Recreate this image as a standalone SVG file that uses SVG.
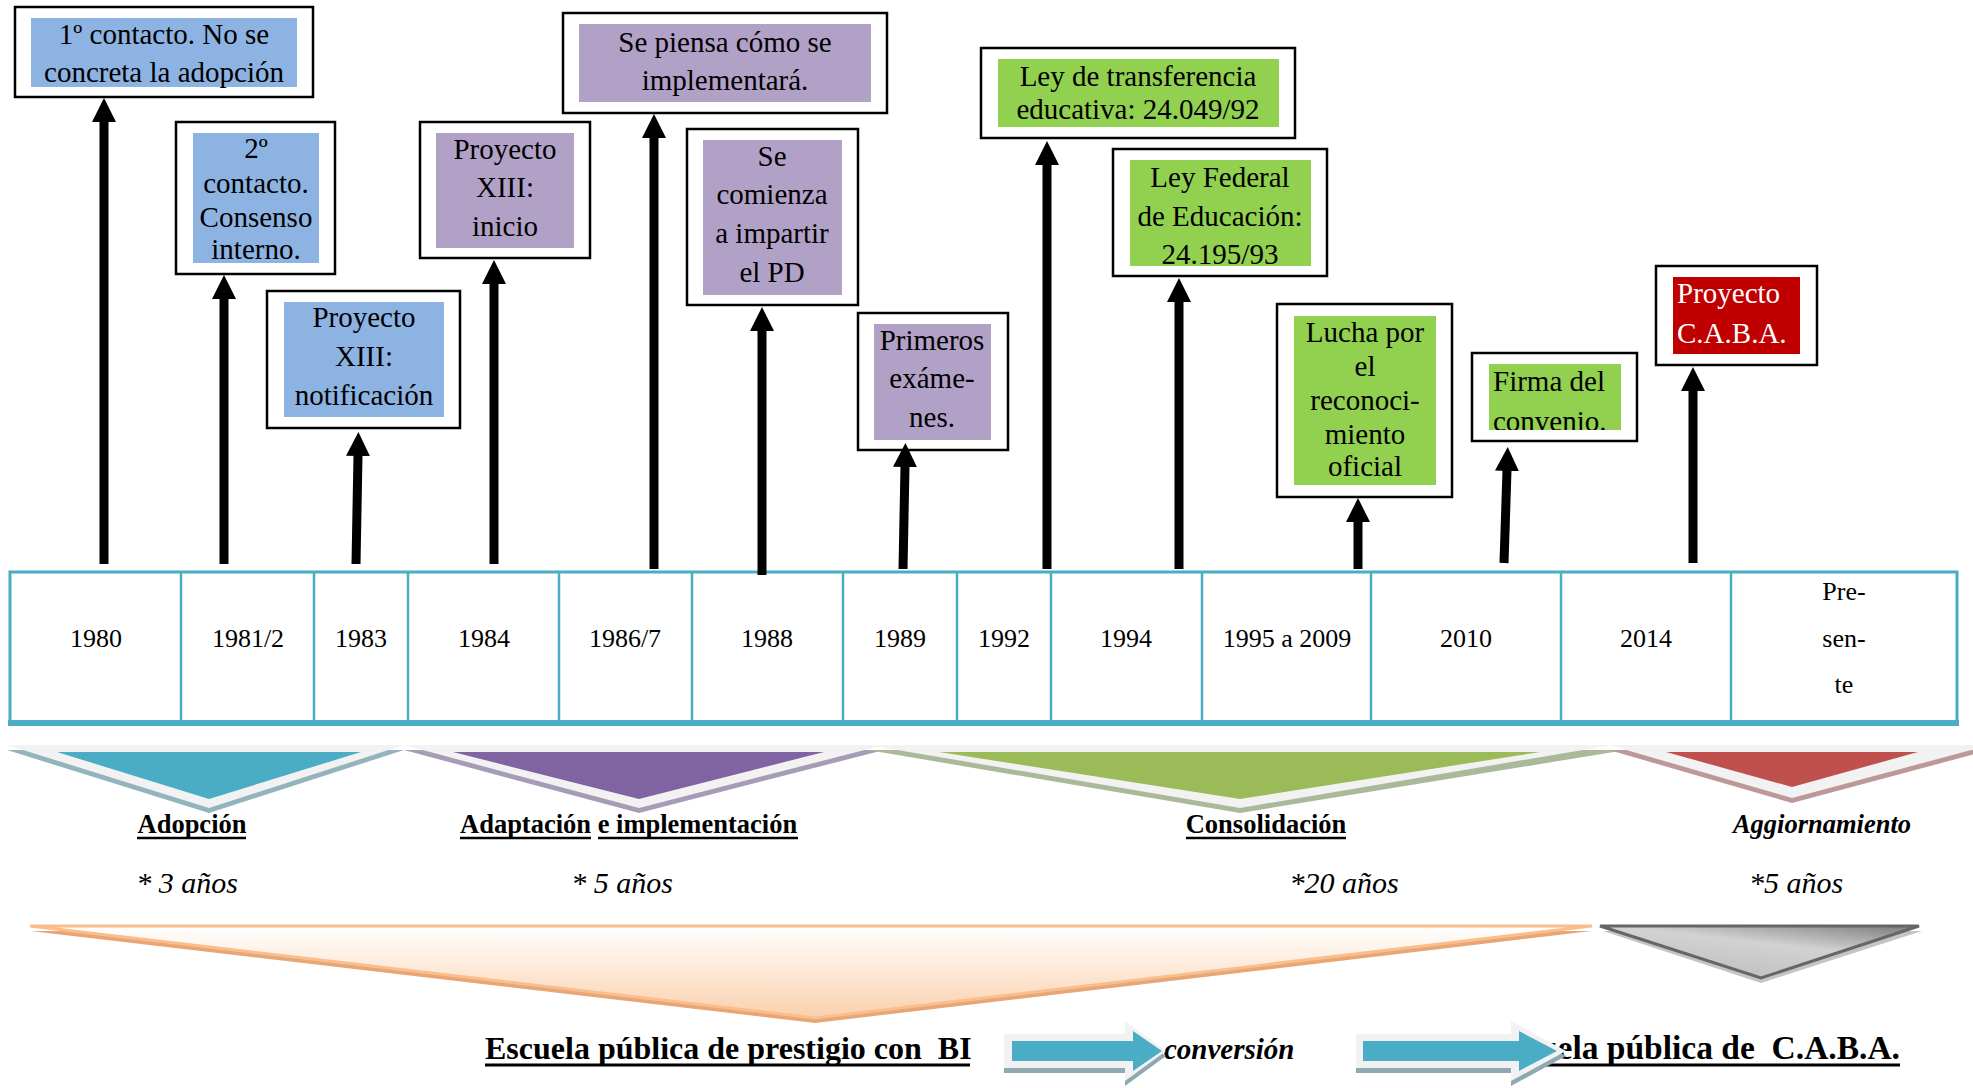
<svg xmlns="http://www.w3.org/2000/svg" width="1973" height="1088" viewBox="0 0 1973 1088">
<style>
.ob{fill:#fff;stroke:#000;stroke-width:2.5}
.blue{fill:#8DB3E2}.purple{fill:#B2A1C7}.green{fill:#92D050}.red{fill:#C00000}
text{font-family:"Liberation Serif","Times New Roman",serif;fill:#000}
.t{font-size:29px;text-anchor:middle}
.tl{font-size:29px}
.w{fill:#fff}
.yr{font-size:26px;text-anchor:middle}
.hd{font-size:26.5px;font-weight:bold}
.it{font-size:30px;font-style:italic;text-anchor:middle}
.big{font-size:32px;font-weight:bold;white-space:pre}
.ul{stroke:#000;stroke-width:2.5}
.cell{stroke:#4BACC6;stroke-width:2.5}
.conn line{stroke:#000;stroke-width:9;marker-end:url(#ah)}
</style>
<defs>
<marker id="ah" markerUnits="userSpaceOnUse" markerWidth="24" markerHeight="24" viewBox="0 0 24 24" refX="1" refY="12" orient="auto"><path d="M0,0 L24,12 L0,24 Z" fill="#000"/></marker>
<linearGradient id="og" x1="0" y1="0" x2="0" y2="1"><stop offset="0" stop-color="#FFFFFF"/><stop offset="1" stop-color="#FAD0AC"/></linearGradient>
<linearGradient id="gg" x1="1" y1="0" x2="0.3" y2="1"><stop offset="0" stop-color="#7A7A7A"/><stop offset="0.45" stop-color="#D2D2D2"/><stop offset="1" stop-color="#BEBEBE"/></linearGradient>
<clipPath id="c11"><rect x="1489" y="364" width="132" height="66"/></clipPath>
</defs>
<rect width="1973" height="1088" fill="#fff"/>

<g id="n1"><rect class="ob" x="15" y="7" width="298" height="90"/><rect class="blue" x="31" y="18" width="266" height="69"/>
<text class="t" x="164" y="44">1º contacto. No se</text><text class="t" x="164" y="82">concreta la adopción</text></g>

<g id="n2"><rect class="ob" x="176" y="122" width="159" height="152"/><rect class="blue" x="193" y="133" width="126" height="130"/>
<text class="t" x="256" y="158">2º</text><text class="t" x="256" y="193">contacto.</text><text class="t" x="256" y="227">Consenso</text><text class="t" x="256" y="259">interno.</text></g>

<g id="n3"><rect class="ob" x="267" y="291" width="193" height="137"/><rect class="blue" x="284" y="302" width="160" height="115"/>
<text class="t" x="364" y="327">Proyecto</text><text class="t" x="364" y="366">XIII:</text><text class="t" x="364" y="405">notificación</text></g>

<g id="n4"><rect class="ob" x="420" y="122" width="170" height="136"/><rect class="purple" x="436" y="133" width="138" height="115"/>
<text class="t" x="505" y="159">Proyecto</text><text class="t" x="505" y="197">XIII:</text><text class="t" x="505" y="236">inicio</text></g>

<g id="n5"><rect class="ob" x="563" y="13" width="324" height="100"/><rect class="purple" x="579" y="24" width="292" height="78"/>
<text class="t" x="725" y="52">Se piensa cómo se</text><text class="t" x="725" y="90">implementará.</text></g>

<g id="n6"><rect class="ob" x="687" y="129" width="171" height="176"/><rect class="purple" x="703" y="140" width="139" height="155"/>
<text class="t" x="772" y="166">Se</text><text class="t" x="772" y="204">comienza</text><text class="t" x="772" y="243">a impartir</text><text class="t" x="772" y="282">el PD</text></g>

<g id="n7"><rect class="ob" x="858" y="313" width="150" height="137"/><rect class="purple" x="874" y="324" width="117" height="116"/>
<text class="t" x="932" y="350">Primeros</text><text class="t" x="932" y="388">exáme-</text><text class="t" x="932" y="427">nes.</text></g>

<g id="n8"><rect class="ob" x="981" y="48" width="314" height="90"/><rect class="green" x="998" y="59" width="281" height="68"/>
<text class="t" x="1138" y="86">Ley de transferencia</text><text class="t" x="1138" y="119">educativa: 24.049/92</text></g>

<g id="n9"><rect class="ob" x="1113" y="149" width="214" height="127"/><rect class="green" x="1130" y="160" width="181" height="106"/>
<text class="t" x="1220" y="187">Ley Federal</text><text class="t" x="1220" y="226">de Educación:</text><text class="t" x="1220" y="264">24.195/93</text></g>

<g id="n10"><rect class="ob" x="1277" y="304" width="175" height="193"/><rect class="green" x="1294" y="316" width="142" height="169"/>
<text class="t" x="1365" y="342">Lucha por</text><text class="t" x="1365" y="376">el</text><text class="t" x="1365" y="410">reconoci-</text><text class="t" x="1365" y="444">miento</text><text class="t" x="1365" y="476">oficial</text></g>

<g id="n11"><rect class="ob" x="1472" y="353" width="165" height="88"/><rect class="green" x="1489" y="364" width="132" height="66"/>
<g clip-path="url(#c11)"><text class="tl" x="1493" y="391">Firma del</text><text class="tl" x="1493" y="431">convenio.</text></g></g>

<g id="n12"><rect class="ob" x="1656" y="266" width="161" height="99"/><rect class="red" x="1673" y="277" width="127" height="77"/>
<text class="tl w" x="1677" y="303">Proyecto</text><text class="tl w" x="1677" y="343">C.A.B.A.</text></g>

<g id="timeline">
<rect x="10" y="572" width="1947" height="151" fill="#fff" stroke="#4BACC6" stroke-width="3"/>
<line x1="8" y1="723" x2="1959" y2="723" stroke="#4BACC6" stroke-width="6"/>
<line class="cell" x1="181" y1="572" x2="181" y2="723"/><line class="cell" x1="314" y1="572" x2="314" y2="723"/>
<line class="cell" x1="408" y1="572" x2="408" y2="723"/><line class="cell" x1="559" y1="572" x2="559" y2="723"/>
<line class="cell" x1="692" y1="572" x2="692" y2="723"/><line class="cell" x1="843" y1="572" x2="843" y2="723"/>
<line class="cell" x1="957" y1="572" x2="957" y2="723"/><line class="cell" x1="1051" y1="572" x2="1051" y2="723"/>
<line class="cell" x1="1202" y1="572" x2="1202" y2="723"/><line class="cell" x1="1371" y1="572" x2="1371" y2="723"/>
<line class="cell" x1="1561" y1="572" x2="1561" y2="723"/><line class="cell" x1="1731" y1="572" x2="1731" y2="723"/>
<text class="yr" x="96" y="647">1980</text><text class="yr" x="248" y="647">1981/2</text><text class="yr" x="361" y="647">1983</text>
<text class="yr" x="484" y="647">1984</text><text class="yr" x="625" y="647">1986/7</text><text class="yr" x="767" y="647">1988</text>
<text class="yr" x="900" y="647">1989</text><text class="yr" x="1004" y="647">1992</text><text class="yr" x="1126" y="647">1994</text>
<text class="yr" x="1287" y="647">1995 a 2009</text><text class="yr" x="1466" y="647">2010</text><text class="yr" x="1646" y="647">2014</text>
<text class="yr" x="1844" y="600">Pre-</text><text class="yr" x="1844" y="647">sen-</text><text class="yr" x="1844" y="693">te</text>
</g>

<g id="connectors" class="conn">
<line x1="104" y1="564" x2="104" y2="121"/>
<line x1="224" y1="564" x2="224" y2="298"/>
<line x1="356" y1="564" x2="358" y2="455"/>
<line x1="494" y1="564" x2="494" y2="283"/>
<line x1="654" y1="569" x2="654" y2="137"/>
<line x1="762" y1="575" x2="762" y2="330"/>
<line x1="903" y1="569" x2="905" y2="466"/>
<line x1="1047" y1="569" x2="1047" y2="164"/>
<line x1="1179" y1="569" x2="1179" y2="301"/>
<line x1="1358" y1="569" x2="1358" y2="521"/>
<line x1="1504" y1="563" x2="1507" y2="470"/>
<line x1="1693" y1="563" x2="1693" y2="390"/>
</g>

<g id="phases">
<polygon points="7,750 404,750 209,813" fill="#93B3BD"/>
<polygon points="7,745 404,745 209,808" fill="#F2F2F2"/>
<polygon points="57,752 361,752 209,799" fill="#4BACC6"/>
<polygon points="404,750 884,750 639,813" fill="#A69CB6"/>
<polygon points="404,745 884,745 639,808" fill="#F2F2F2"/>
<polygon points="453,752 824,752 639,799" fill="#8064A2"/>
<polygon points="868,750 1626,750 1240,813" fill="#AAB99A"/>
<polygon points="868,745 1612,745 1240,808" fill="#F2F2F2"/>
<polygon points="939,752 1540,752 1240,799" fill="#9BBB59"/>
<polygon points="1609,750 1990,750 1792,803" fill="#BC9898"/>
<polygon points="1609,745 1990,745 1792,798" fill="#F2F2F2"/>
<polygon points="1666,752 1918,752 1792,787" fill="#C0504D"/>
</g>

<g id="labels">
<text class="hd" x="192" y="833" text-anchor="middle">Adopción</text>
<line class="ul" x1="137" y1="838" x2="246" y2="838"/>
<text class="hd" x="460" y="833">Adaptación e implementación</text>
<line class="ul" x1="460" y1="838" x2="591" y2="838"/><line class="ul" x1="598" y1="838" x2="798" y2="838"/>
<text class="hd" x="1266" y="833" text-anchor="middle">Consolidación</text>
<line class="ul" x1="1186" y1="838" x2="1346" y2="838"/>
<text class="hd" x="1822" y="833" text-anchor="middle" font-style="italic">Aggiornamiento</text>
<text class="it" x="187" y="893">* 3 años</text>
<text class="it" x="622" y="893">* 5 años</text>
<text class="it" x="1344" y="893">*20 años</text>
<text class="it" x="1796" y="893">*5 años</text>
</g>

<g id="outcomes">
<polygon points="30,931 1592,931 815,1023" fill="#E8A676"/>
<polygon points="30,926 1592,926 815,1018" fill="url(#og)" stroke="#F9BE8C" stroke-width="3"/>
<polygon points="1603,931 1922,931 1761,983" fill="#C4C4C4"/>
<polygon points="1600,926 1919,926 1761,978" fill="url(#gg)" stroke="#666" stroke-width="3"/>
<text class="big" x="485" y="1059">Escuela pública de prestigio con  BI</text>
<line x1="485" y1="1065" x2="970" y2="1065" stroke="#000" stroke-width="3"/>
<text x="1164" y="1059" font-size="29" font-weight="bold" font-style="italic">conversión</text>
<text class="big" x="1900" y="1059" text-anchor="end" font-size="33.5px" style="font-size:33.5px">Escuela pública de  C.A.B.A.</text>
<line x1="1500" y1="1065" x2="1900" y2="1065" stroke="#000" stroke-width="3"/>
<polygon points="1004,1039 1125,1039 1125,1026 1166,1056 1125,1086 1125,1073 1004,1073" fill="#8FA9B3"/>
<polygon points="1004,1034 1125,1034 1125,1021 1166,1051 1125,1081 1125,1068 1004,1068" fill="#F2F2F2"/>
<polygon points="1012,1041 1133,1041 1133,1031 1162,1051 1133,1071 1133,1061 1012,1061" fill="#4BACC6"/>
<polygon points="1356,1039 1511,1039 1511,1026 1566,1056 1511,1086 1511,1073 1356,1073" fill="#8FA9B3"/>
<polygon points="1356,1034 1511,1034 1511,1021 1566,1051 1511,1081 1511,1068 1356,1068" fill="#F2F2F2"/>
<polygon points="1363,1041 1519,1041 1519,1031 1557,1051 1519,1071 1519,1061 1363,1061" fill="#4BACC6"/>
</g>
</svg>
